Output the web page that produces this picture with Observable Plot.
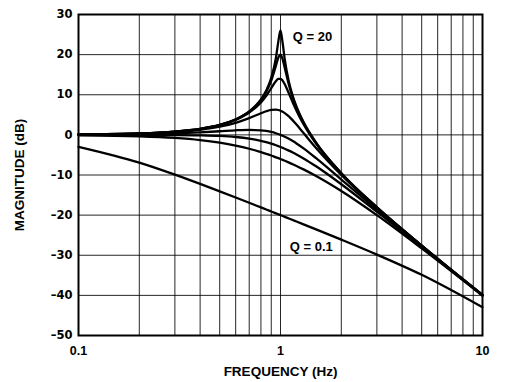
<!DOCTYPE html>
<html>
<head>
<meta charset="utf-8">
<script src="https://cdn.jsdelivr.net/npm/d3@7"></script>
<script src="https://cdn.jsdelivr.net/npm/@observablehq/plot@0.6"></script>
<style>
  html, body { margin: 0; padding: 0; background: #fff; }
  svg { display: block; }
  g[aria-label="y-axis tick label"] { font-family: 'DejaVu Sans', sans-serif; font-size: 11.5px; }
  g[aria-label="x-axis tick label"] { font-family: 'Liberation Sans', Arial, sans-serif; font-size: 12.5px; }
  g[aria-label="x-axis label"], g[aria-label="y-axis label"] { font-family: 'Liberation Sans', Arial, sans-serif; font-size: 13.5px; }
</style>
</head>
<body>
<div id="chart"></div>
<script>
// Frequencies (Hz) at which the curves are read
const freq = [0.1, 0.2, 0.3, 0.4, 0.5, 0.6, 0.7, 0.8, 0.85, 0.9, 0.95, 0.975, 1.0, 1.025, 1.05, 1.1, 1.15, 1.2, 1.3, 1.5, 2, 3, 5, 10];

// Magnitude (dB) for each Q curve
const q20   = [0.09, 0.35, 0.82, 1.51, 2.49, 3.87, 5.83, 8.82, 11.03, 14.19, 19.30, 23.17, 26.02, 22.85, 18.77, 13.27, 9.69, 7.05, 3.18, -1.95, -9.55, -18.06, -27.60, -39.91];
const q10   = [0.09, 0.35, 0.81, 1.51, 2.48, 3.84, 5.77, 8.66, 10.75, 13.55, 17.32, 19.23, 20.00, 18.84, 16.67, 12.50, 9.31, 6.82, 3.07, -2.00, -9.56, -18.07, -27.61, -39.91];
const q5    = [0.09, 0.35, 0.80, 1.48, 2.42, 3.73, 5.53, 8.09, 9.75, 11.64, 13.41, 13.93, 13.98, 13.51, 12.63, 10.34, 8.04, 6.00, 2.65, -2.18, -9.62, -18.09, -27.61, -39.91];
const q2    = [0.08, 0.31, 0.70, 1.28, 2.04, 3.01, 4.17, 5.38, 5.89, 6.22, 6.29, 6.20, 6.02, 5.76, 5.43, 4.60, 3.62, 2.57, 0.46, -3.27, -10.00, -18.21, -27.65, -39.92];
const q1    = [0.04, 0.17, 0.37, 0.63, 0.90, 1.14, 1.25, 1.14, 0.97, 0.73, 0.40, 0.21, 0.00, -0.23, -0.47, -0.98, -1.54, -2.13, -3.36, -5.81, -11.14, -18.63, -27.79, -39.96];
const q0707 = [0.00, -0.01, -0.04, -0.11, -0.26, -0.53, -0.93, -1.49, -1.82, -2.19, -2.59, -2.80, -3.01, -3.23, -3.45, -3.92, -4.39, -4.88, -5.86, -7.83, -12.30, -19.14, -27.97, -40.00];
const q05   = [-0.09, -0.34, -0.75, -1.29, -1.94, -2.67, -3.46, -4.30, -4.72, -5.15, -5.59, -5.80, -6.02, -6.24, -6.45, -6.89, -7.32, -7.75, -8.60, -10.24, -13.98, -20.00, -28.30, -40.09];
const q01   = [-2.97, -6.92, -9.92, -12.23, -14.08, -15.61, -16.92, -18.07, -18.59, -19.09, -19.56, -19.78, -20.00, -20.21, -20.42, -20.83, -21.22, -21.59, -22.29, -23.55, -26.12, -29.84, -34.88, -42.97];

const seriesNames = ["20", "10", "5", "2", "1", "0.707", "0.5", "0.1"];
const seriesValues = [q20, q10, q5, q2, q1, q0707, q05, q01];

// Axis ticks and grid
const xTickLabels = [0.1, 1, 10];
const xGrid = [0.1, 0.2, 0.3, 0.4, 0.5, 0.6, 0.7, 0.8, 0.9, 1, 2, 3, 4, 5, 6, 7, 8, 9, 10];
const yTicks = [-50, -40, -30, -20, -10, 0, 10, 20, 30];

// Curve annotations
const annotations = [
  {text: "Q = 20", f: 1.44, db: 24.4},
  {text: "Q = 0.1", f: 1.42, db: -28.0}
];

const rows = [];
seriesValues.forEach((vals, i) => {
  vals.forEach((v, j) => rows.push({q: seriesNames[i], f: freq[j], db: v}));
});

const font = "'Liberation Sans', Arial, sans-serif";

const chart = Plot.plot({
  width: 509,
  height: 382,
  marginLeft: 78,
  marginRight: 27,
  marginTop: 14,
  marginBottom: 47,
  style: {fontFamily: font, fontSize: "12px", fontWeight: "bold", color: "#000", background: "#fff"},
  x: {type: "log", domain: [0.1, 10]},
  y: {domain: [-50, 30]},
  marks: [
    Plot.gridX(xGrid, {stroke: "#000", strokeOpacity: 0.85, strokeWidth: 1}),
    Plot.gridY(yTicks, {stroke: "#000", strokeOpacity: 0.85, strokeWidth: 1}),
    Plot.line(rows, {x: "f", y: "db", z: "q", stroke: "#000", strokeWidth: 2.3, curve: "monotone-x"}),
    Plot.frame({stroke: "#000", strokeWidth: 2}),
    Plot.axisX(xTickLabels, {tickSize: 0, tickPadding: 11, tickFormat: d => String(d), label: "FREQUENCY (Hz)", labelAnchor: "center", labelArrow: "none", labelOffset: 40}),
    Plot.axisY(yTicks, {tickSize: 0, tickPadding: 6, tickFormat: d => (d < 0 ? "\u2013" + Math.abs(d) : String(d)), label: "MAGNITUDE (dB)", labelAnchor: "center", labelArrow: "none", labelOffset: 64}),
    Plot.text(annotations, {x: "f", y: "db", text: "text", textAnchor: "middle", fontSize: 13, fontWeight: "bold", fill: "#000"})
  ]
});

document.getElementById("chart").appendChild(chart);
</script>
</body>
</html>
